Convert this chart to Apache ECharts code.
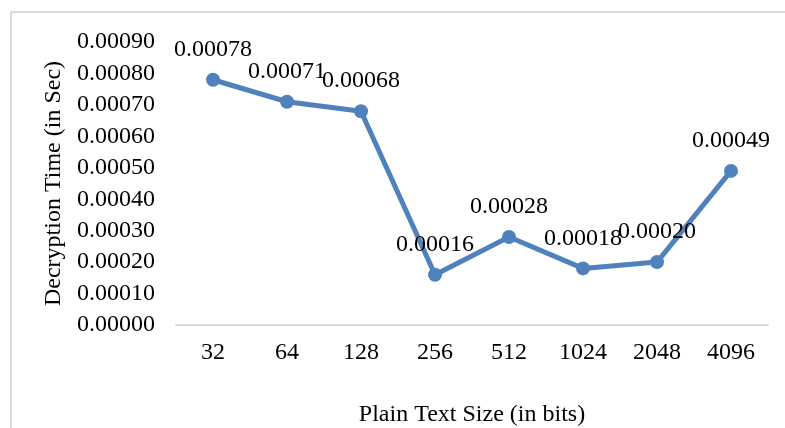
<!DOCTYPE html>
<html>
<head>
<meta charset="utf-8">
<script src="https://cdn.jsdelivr.net/npm/echarts@6/dist/echarts.min.js"></script>
<style>
  html, body { margin: 0; padding: 0; background: #fff; }
  #chart { width: 785px; height: 428px; }
</style>
</head>
<body>
<div id="chart"></div>
<script>
// Plain text sizes (bits) and measured decryption time (seconds)
const sizes = ['32', '64', '128', '256', '512', '1024', '2048', '4096'];
const decryptTime = [0.00078, 0.00071, 0.00068, 0.00016, 0.00028, 0.00018, 0.00020, 0.00049];

const FONT = '"Liberation Serif", "Times New Roman", serif';
const TEXT = '#000';
const FS = 24;

const chart = echarts.init(document.getElementById('chart'));
chart.setOption({
  animation: false,
  backgroundColor: '#fff',
  graphic: [
    // outer frame edges
    { type: 'line', shape: { x1: 11, y1: 12, x2: 785, y2: 12 }, style: { stroke: '#d9d9d9', lineWidth: 2 } },
    { type: 'line', shape: { x1: 11, y1: 12, x2: 11, y2: 428 }, style: { stroke: '#d9d9d9', lineWidth: 2 } }
  ],
  grid: { left: 176, right: 17, top: 42, bottom: 103, outerBoundsMode: 'none', containLabel: false },
  xAxis: {
    type: 'category',
    data: sizes,
    boundaryGap: true,
    axisLine: { lineStyle: { color: '#d9d9d9', width: 2 } },
    axisTick: { show: false },
    axisLabel: { color: TEXT, fontFamily: FONT, fontSize: FS, margin: 16 },
    name: 'Plain Text Size (in bits)',
    nameLocation: 'middle',
    nameGap: 78,
    nameTextStyle: { color: TEXT, fontFamily: FONT, fontSize: FS }
  },
  yAxis: {
    type: 'value',
    min: 0,
    max: 0.0009,
    interval: 0.0001,
    axisLine: { show: false },
    axisTick: { show: false },
    splitLine: { show: false },
    axisLabel: {
      color: TEXT, fontFamily: FONT, fontSize: FS, margin: 21,
      formatter: v => v.toFixed(5)
    },
    name: 'Decryption Time (in Sec)',
    nameLocation: 'middle',
    nameGap: 104,
    nameTextStyle: { color: TEXT, fontFamily: FONT, fontSize: FS }
  },
  series: [{
    type: 'line',
    data: decryptTime,
    color: '#4f81bd',
    lineStyle: { width: 5, color: '#4f81bd' },
    symbol: 'circle',
    symbolSize: 14,
    itemStyle: { color: '#4f81bd' },
    label: {
      show: true,
      position: 'top',
      distance: 11,
      color: TEXT,
      fontFamily: FONT,
      fontSize: FS,
      formatter: p => p.value.toFixed(5)
    }
  }]
});
</script>
</body>
</html>
